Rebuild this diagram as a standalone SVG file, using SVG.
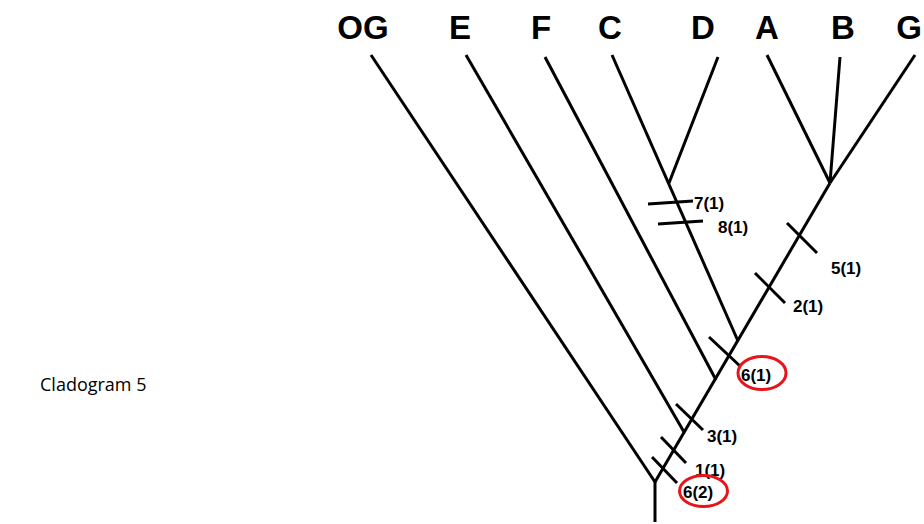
<svg xmlns="http://www.w3.org/2000/svg" width="924" height="524" viewBox="0 0 924 524">
<style>
.ln{stroke:#000;stroke-width:3;fill:none;stroke-linecap:butt}
.tk{stroke:#000;stroke-width:3;fill:none}
.tx{font-family:"Liberation Sans",Arial,sans-serif;font-weight:bold;fill:#000}
.tax{font-size:33px;text-anchor:middle}
.lab{font-size:17px}
.ring{fill:none;stroke:#e8141b;stroke-width:3}
</style>
<rect width="924" height="524" fill="#fff"/>
<g id="connectors">
<line class="ln" x1="655" y1="522" x2="655" y2="482"/>
<line class="ln" x1="655" y1="482" x2="830" y2="183"/>
<line class="ln" x1="371" y1="55" x2="655" y2="482"/>
<line class="ln" x1="466" y1="55" x2="684" y2="432"/>
<line class="ln" x1="545" y1="57" x2="716" y2="380"/>
<line class="ln" x1="612" y1="55" x2="738" y2="341"/>
<line class="ln" x1="718" y1="57" x2="669" y2="183"/>
<line class="ln" x1="767" y1="55" x2="830" y2="183"/>
<line class="ln" x1="840" y1="57" x2="830" y2="183"/>
<line class="ln" x1="915" y1="55" x2="830" y2="183"/>
</g>
<g id="taxa">
<text id="OG" class="tx tax" x="363" y="39">OG</text>
<text id="E" class="tx tax" x="460" y="39">E</text>
<text id="F" class="tx tax" x="541" y="39">F</text>
<text id="C" class="tx tax" x="610" y="39">C</text>
<text id="D" class="tx tax" x="703" y="39">D</text>
<text id="A" class="tx tax" x="767" y="39">A</text>
<text id="B" class="tx tax" x="843" y="39">B</text>
<text id="G" class="tx tax" x="909" y="39">G</text>
</g>
<g id="characters">
<g id="c7"><line class="tk" x1="648" y1="204" x2="693" y2="201"/><text class="tx lab" x="694" y="209">7(1)</text></g>
<g id="c8"><line class="tk" x1="658" y1="224" x2="703" y2="221"/><text class="tx lab" x="718" y="233">8(1)</text></g>
<g id="c5"><line class="tk" x1="787" y1="223" x2="817" y2="253"/><text class="tx lab" x="831" y="274">5(1)</text></g>
<g id="c2"><line class="tk" x1="755" y1="273" x2="785" y2="303"/><text class="tx lab" x="793" y="312">2(1)</text></g>
<g id="c6a"><line class="tk" x1="709" y1="337" x2="740" y2="366"/><text class="tx lab" x="741" y="381">6(1)</text><ellipse class="ring" cx="762" cy="373" rx="24" ry="16.5"/></g>
<g id="c3"><line class="tk" x1="676" y1="404" x2="703" y2="430"/><text class="tx lab" x="707" y="442">3(1)</text></g>
<g id="c1"><line class="tk" x1="661" y1="437" x2="686" y2="463"/><text class="tx lab" x="695" y="476">1(1)</text></g>
<g id="c6b"><line class="tk" x1="652" y1="457" x2="677" y2="483"/><text class="tx lab" x="683" y="498">6(2)</text><ellipse class="ring" cx="703.5" cy="491" rx="24" ry="15.5"/></g>
</g>
<text id="caption" x="40" y="391" font-family="'Open Sans','Liberation Sans',sans-serif" font-size="18" fill="#000">Cladogram 5</text>
</svg>
